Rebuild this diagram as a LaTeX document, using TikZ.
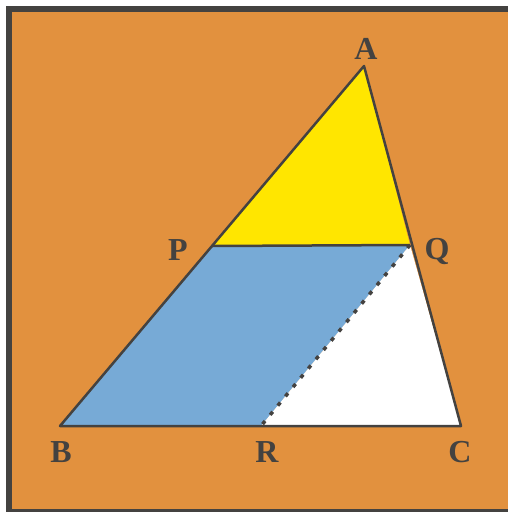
\documentclass[tikz,border=0pt]{standalone}
\usepackage{fontspec}
\setmainfont{Liberation Serif}
\definecolor{bgorange}{HTML}{E2913E}
\definecolor{edge}{HTML}{444240}
\definecolor{yel}{HTML}{FFE600}
\definecolor{blu}{HTML}{77AAD6}
\begin{document}
\begin{tikzpicture}[x=1pt,y=-1pt,
  lbl/.style={font=\fontsize{32}{32}\selectfont\bfseries, text=edge, inner sep=0pt},
  side/.style={draw=edge, line width=2.5pt, line join=round}]
\useasboundingbox (0,0) rectangle (508,512);
\fill[white] (0,0) rectangle (508,512);
\fill[bgorange] (6,6) rectangle (508,512);
\fill[edge] (6,6) rectangle (12,512);
\fill[edge] (6,6) rectangle (508,12);
\fill[edge] (6,509) rectangle (508,512);
\coordinate (A) at (364,66);
\coordinate (B) at (60,426);
\coordinate (C) at (461,426);
\coordinate (P) at (212,246);
\coordinate (Q) at (410,245);
\coordinate (R) at (261,426);
\fill[yel] (A) -- (P) -- (Q) -- cycle;
\fill[blu] (P) -- (B) -- (R) -- (Q) -- cycle;
\fill[white] (Q) -- (R) -- (C) -- cycle;
\draw[side] (A) -- (B) -- (C) -- cycle;
\draw[side] (P) -- (Q);
\draw[draw=edge, line width=3.5pt, dash pattern=on 4pt off 8pt] (Q) -- (R);
\node[lbl] (lA) at (366,49) {A};
\node[lbl] (lP) at (178,250) {P};
\node[lbl] (lQ) at (437,251) {Q};
\node[lbl] (lB) at (61,452) {B};
\node[lbl] (lR) at (267,452) {R};
\node[lbl] (lC) at (460,452) {C};
\end{tikzpicture}
\end{document}
